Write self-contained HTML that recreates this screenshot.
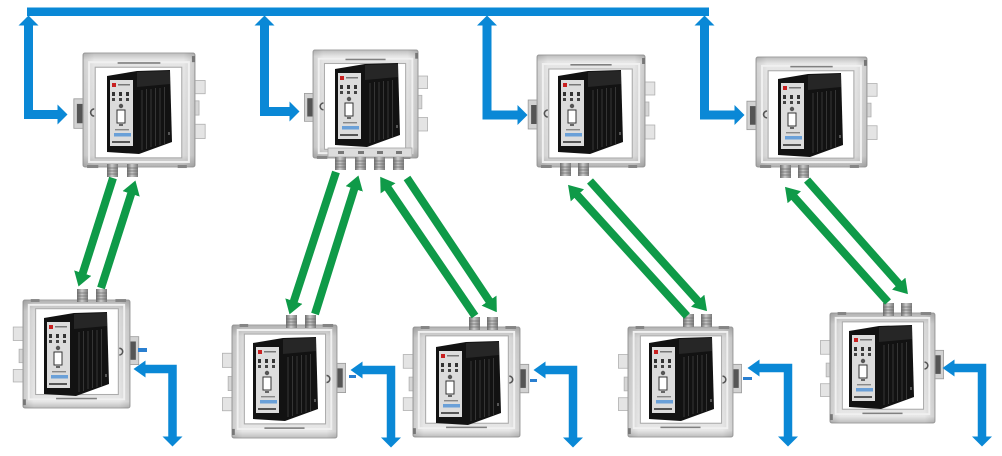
<!DOCTYPE html>
<html><head><meta charset="utf-8">
<style>html,body{margin:0;padding:0;background:#fff;}svg{display:block;}</style>
</head>
<body>
<svg width="1002" height="456" viewBox="0 0 1002 456" xmlns="http://www.w3.org/2000/svg" xmlns:xlink="http://www.w3.org/1999/xlink">
<defs>
<linearGradient id="eg" x1="0" y1="0" x2="0" y2="1">
 <stop offset="0" stop-color="#bdbdbd"/><stop offset="0.06" stop-color="#e6e6e6"/><stop offset="0.9" stop-color="#d9d9d9"/><stop offset="1" stop-color="#b2b2b2"/>
</linearGradient>
<linearGradient id="eh" x1="0" y1="0" x2="1" y2="0">
 <stop offset="0" stop-color="#000" stop-opacity="0.10"/><stop offset="0.1" stop-color="#000" stop-opacity="0"/><stop offset="0.9" stop-color="#000" stop-opacity="0"/><stop offset="1" stop-color="#000" stop-opacity="0.12"/>
</linearGradient>
<linearGradient id="cg" x1="0" y1="0" x2="1" y2="0">
 <stop offset="0" stop-color="#6e6e6e"/><stop offset="0.45" stop-color="#cacaca"/><stop offset="1" stop-color="#7a7a7a"/>
</linearGradient>
<marker id="gh" markerUnits="userSpaceOnUse" markerWidth="14" markerHeight="18" refX="0.5" refY="9" orient="auto" viewBox="0 0 14 18"><path d="M0,0 L14,9 L0,18 Z" fill="#0f9a48"/></marker>
<marker id="bh" markerUnits="userSpaceOnUse" markerWidth="10" markerHeight="20" refX="0.5" refY="10" orient="auto-start-reverse" viewBox="0 0 10 20"><path d="M0,0 L10,10 L0,20 Z" fill="#0a88d6"/></marker>
<marker id="bs" markerUnits="userSpaceOnUse" markerWidth="12" markerHeight="17" refX="0.5" refY="8.5" orient="auto-start-reverse" viewBox="0 0 12 17"><path d="M0,0 L12,8.5 L0,17 Z" fill="#0a88d6"/></marker>

<g id="enc">
  <rect x="-9" y="45" width="10" height="29" fill="#d2d2d2" stroke="#999" stroke-width="0.8"/>
  <rect x="-6" y="50" width="6" height="19" fill="#555"/>
  <rect x="109" y="27" width="11" height="13" fill="#e4e4e4" stroke="#b0b0b0" stroke-width="0.8"/>
  <rect x="109" y="47" width="5" height="14" fill="#d6d6d6" stroke="#b0b0b0" stroke-width="0.8"/>
  <rect x="109" y="70" width="11" height="14" fill="#e4e4e4" stroke="#b0b0b0" stroke-width="0.8"/>
  <rect x="0" y="0" width="110" height="112" rx="2" fill="url(#eg)" stroke="#a0a0a0" stroke-width="1"/>
  <rect x="0" y="0" width="110" height="112" rx="2" fill="url(#eh)"/>
  <rect x="6" y="9" width="98" height="98" fill="none" stroke="#f0f0f0" stroke-width="2"/>
  <rect x="12" y="14" width="85" height="89" fill="#fff" stroke="#acacac" stroke-width="1.1"/>
  <rect x="34" y="9" width="42" height="1.6" fill="#808080"/>
  <path d="M11,55 A3.5,3.5 0 0 0 11,62" fill="none" stroke="#555" stroke-width="1.6"/>
  <rect x="4" y="110" width="11" height="3" fill="#858585"/>
  <rect x="93" y="110" width="9" height="3" fill="#858585"/>
  <rect x="107" y="3" width="3" height="6" fill="#777"/>
</g>

<g id="mod">
  <path d="M1,6 L31,1 L64,0 L66,72 L33,84 L1,82 Z" fill="#121212"/>
  <path d="M31,2 L64,1 L64,14 L31,17 Z" fill="#262626"/>
  <g stroke="#353535" stroke-width="1">
    <line x1="36" y1="20" x2="36" y2="80"/>
    <line x1="40.5" y1="19" x2="40.5" y2="79"/>
    <line x1="45" y1="19" x2="45" y2="77"/>
    <line x1="49.5" y1="18" x2="49.5" y2="76"/>
    <line x1="54" y1="18" x2="54" y2="75"/>
    <line x1="58.5" y1="17" x2="58.5" y2="74"/>
  </g>
  <rect x="62" y="62" width="2" height="3" fill="#555"/>
  <rect x="4" y="10" width="23" height="66" fill="#dcdcdc"/>
  <rect x="6" y="13" width="4" height="4" fill="#c82020"/>
  <rect x="12" y="14" width="12" height="1.5" fill="#777"/>
  <rect x="6" y="22" width="3" height="4" fill="#333"/>
  <rect x="13" y="22" width="3" height="4" fill="#333"/>
  <rect x="20" y="22" width="3" height="4" fill="#333"/>
  <rect x="6" y="28" width="3" height="3" fill="#444"/>
  <rect x="13" y="28" width="3" height="3" fill="#444"/>
  <rect x="20" y="28" width="3" height="3" fill="#444"/>
  <circle cx="15" cy="36" r="2.2" fill="#555"/>
  <rect x="11" y="40" width="8" height="13" fill="#fff" stroke="#333" stroke-width="1"/>
  <rect x="13" y="54" width="4" height="2" fill="#666"/>
  <rect x="9" y="59" width="14" height="1.4" fill="#888"/>
  <rect x="8" y="63" width="17" height="3.5" fill="#6aa0d8"/>
  <rect x="6" y="71" width="18" height="2" fill="#555"/>
</g>

<g id="cn">
  <rect x="0" y="0" width="11" height="13" fill="url(#cg)"/>
  <g stroke="#6a6a6a" stroke-width="0.7">
    <line x1="0" y1="4" x2="11" y2="4"/>
    <line x1="0" y1="7" x2="11" y2="7"/>
    <line x1="0" y1="10" x2="11" y2="10"/>
  </g>
</g>
</defs>

<rect x="0" y="0" width="1002" height="456" fill="#fff"/>

<!-- enclosures top -->
<use xlink:href="#enc" href="#enc" transform="translate(83,53) scale(1.018,1.018)"/>
<use xlink:href="#enc" href="#enc" transform="translate(313,50) scale(0.955,0.964)"/>
<use xlink:href="#enc" href="#enc" transform="translate(537,55) scale(0.982,1)"/>
<use xlink:href="#enc" href="#enc" transform="translate(756,57) scale(1.009,0.982)"/>
<!-- B bottom label band -->
<rect x="328" y="148" width="84" height="9" fill="#dcdcdc" stroke="#a5a5a5" stroke-width="0.8"/>
<rect x="338" y="151" width="6" height="3" fill="#777"/>
<rect x="358" y="151" width="6" height="3" fill="#777"/>
<rect x="377" y="151" width="6" height="3" fill="#777"/>
<rect x="396" y="151" width="6" height="3" fill="#777"/>

<!-- enclosures bottom (rotated) -->
<use xlink:href="#enc" href="#enc" transform="translate(130,408) rotate(180) scale(0.973,0.964)"/>
<use xlink:href="#enc" href="#enc" transform="translate(337,438) rotate(180) scale(0.955,1.009)"/>
<use xlink:href="#enc" href="#enc" transform="translate(520,437) rotate(180) scale(0.973,0.982)"/>
<use xlink:href="#enc" href="#enc" transform="translate(733,437) rotate(180) scale(0.955,0.982)"/>
<use xlink:href="#enc" href="#enc" transform="translate(935,423) rotate(180) scale(0.955,0.982)"/>

<!-- modules -->
<use xlink:href="#mod" href="#mod" x="106" y="70"/>
<use xlink:href="#mod" href="#mod" x="334" y="63"/>
<use xlink:href="#mod" href="#mod" x="557" y="70"/>
<use xlink:href="#mod" href="#mod" x="777" y="73"/>
<use xlink:href="#mod" href="#mod" x="43" y="312"/>
<use xlink:href="#mod" href="#mod" x="252" y="337"/>
<use xlink:href="#mod" href="#mod" x="435" y="341"/>
<use xlink:href="#mod" href="#mod" x="648" y="337"/>
<use xlink:href="#mod" href="#mod" x="848" y="325"/>

<!-- connectors -->
<use xlink:href="#cn" href="#cn" x="107" y="164"/>
<use xlink:href="#cn" href="#cn" x="127" y="164"/>
<use xlink:href="#cn" href="#cn" x="335" y="157"/>
<use xlink:href="#cn" href="#cn" x="355" y="157"/>
<use xlink:href="#cn" href="#cn" x="374" y="157"/>
<use xlink:href="#cn" href="#cn" x="393" y="157"/>
<use xlink:href="#cn" href="#cn" x="560" y="163"/>
<use xlink:href="#cn" href="#cn" x="578" y="163"/>
<use xlink:href="#cn" href="#cn" x="780" y="165"/>
<use xlink:href="#cn" href="#cn" x="798" y="165"/>
<use xlink:href="#cn" href="#cn" x="77" y="289"/>
<use xlink:href="#cn" href="#cn" x="96" y="289"/>
<use xlink:href="#cn" href="#cn" x="286" y="315"/>
<use xlink:href="#cn" href="#cn" x="305" y="315"/>
<use xlink:href="#cn" href="#cn" x="469" y="317"/>
<use xlink:href="#cn" href="#cn" x="487" y="317"/>
<use xlink:href="#cn" href="#cn" x="683" y="314"/>
<use xlink:href="#cn" href="#cn" x="701" y="314"/>
<use xlink:href="#cn" href="#cn" x="883" y="303"/>
<use xlink:href="#cn" href="#cn" x="901" y="303"/>

<!-- green fibre arrows -->
<g stroke="#0f9a48" stroke-width="8" fill="none" marker-end="url(#gh)">
  <line x1="113" y1="178" x2="82.6" y2="273.6"/>
  <line x1="101" y1="288" x2="131.3" y2="193.4"/>
  <line x1="336" y1="172" x2="293.7" y2="301.6"/>
  <line x1="315" y1="314" x2="354.4" y2="188.4"/>
  <line x1="475" y1="316" x2="387.8" y2="187.9"/>
  <line x1="407" y1="178" x2="489.3" y2="301"/>
  <line x1="687" y1="316" x2="577.1" y2="194.9"/>
  <line x1="590" y1="181" x2="698" y2="301.1"/>
  <line x1="888" y1="302" x2="794" y2="196.9"/>
  <line x1="807" y1="180" x2="899" y2="284"/>
</g>

<!-- blue bus -->
<rect x="27" y="7.5" width="682" height="8.5" fill="#0a88d6"/>
<g stroke="#0a88d6" stroke-width="9" fill="none" stroke-linejoin="miter" marker-start="url(#bh)" marker-end="url(#bh)">
  <path d="M28.5,25 V114.5 H58"/>
  <path d="M264.5,25 V111.5 H290"/>
  <path d="M487,25 V115 H518"/>
  <path d="M704.5,25 V115 H735"/>
</g>
<!-- bottom blue -->
<g stroke="#0a88d6" stroke-width="8.5" fill="none" stroke-linejoin="miter" marker-start="url(#bs)" marker-end="url(#bh)">
  <path d="M145,369 H172.5 V437"/>
  <path d="M362,370 H391 V438"/>
  <path d="M545,370 H573 V438"/>
  <path d="M759,368 H788 V437"/>
  <path d="M954,368 H982 V437"/>
</g>
<rect x="138" y="348" width="9" height="4" fill="#2a7fd0"/>
<rect x="349" y="375" width="7" height="3" fill="#2a7fd0"/>
<rect x="530" y="379" width="7" height="3" fill="#2a7fd0"/>
<rect x="743" y="377" width="9" height="3" fill="#2a7fd0"/>
</svg>
</body></html>
